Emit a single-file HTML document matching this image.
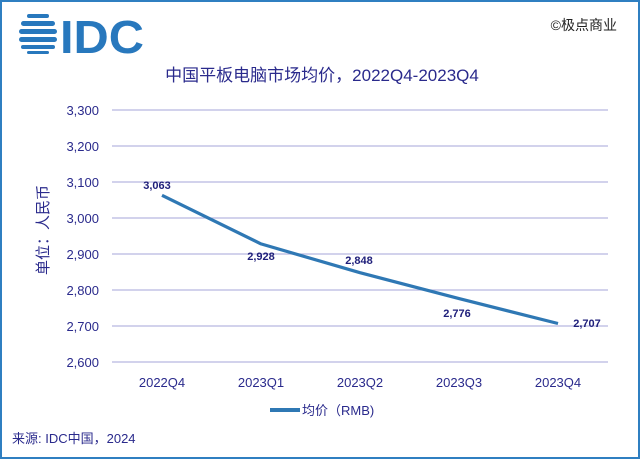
<!DOCTYPE html>
<html><head><meta charset="utf-8"><style>
body{margin:0;background:#fff}
svg{display:block}
text{font-family:"Liberation Sans","Noto Sans CJK SC",sans-serif}
</style></head><body>
<svg width="640" height="459" viewBox="0 0 640 459">
<rect x="1" y="1" width="638" height="457" fill="#fff" stroke="#2f7fc1" stroke-width="2"/>
<!-- logo globe -->
<g fill="#2878bd">
<rect x="27" y="14" width="22" height="4" rx="2"/>
<rect x="21" y="21" width="34" height="5" rx="2.5"/>
<rect x="19" y="29" width="38" height="5" rx="2.5"/>
<rect x="19" y="37" width="38" height="5" rx="2.5"/>
<rect x="21" y="45" width="34" height="4" rx="2"/>
<rect x="27" y="51" width="22" height="3" rx="1.5"/>
</g>
<text x="60" y="53" font-size="46" font-weight="bold" fill="#2878bd" textLength="84" lengthAdjust="spacingAndGlyphs">IDC</text>
<text x="617" y="30" font-size="14" fill="#222" text-anchor="end">©极点商业</text>
<text x="322" y="81" font-size="17" fill="#2a2a8c" text-anchor="middle">中国平板电脑市场均价，2022Q4-2023Q4</text>
<g stroke="#b8b8e0" stroke-width="1.3">
<line x1="112" y1="110" x2="608" y2="110"/><line x1="112" y1="146" x2="608" y2="146"/>
<line x1="112" y1="182" x2="608" y2="182"/><line x1="112" y1="218" x2="608" y2="218"/>
<line x1="112" y1="254" x2="608" y2="254"/><line x1="112" y1="290" x2="608" y2="290"/>
<line x1="112" y1="326" x2="608" y2="326"/><line x1="112" y1="362" x2="608" y2="362"/>
</g>
<g font-size="13" fill="#2a2a8c" text-anchor="end">
<text x="99" y="115">3,300</text><text x="99" y="151">3,200</text><text x="99" y="187">3,100</text>
<text x="99" y="223">3,000</text><text x="99" y="259">2,900</text><text x="99" y="295">2,800</text>
<text x="99" y="331">2,700</text><text x="99" y="367">2,600</text>
</g>
<text transform="translate(48,230) rotate(-90)" font-size="15" fill="#2a2a8c" text-anchor="middle">单位：人民币</text>
<g font-size="13" fill="#2a2a8c" text-anchor="middle">
<text x="162" y="387">2022Q4</text><text x="261" y="387">2023Q1</text><text x="360" y="387">2023Q2</text>
<text x="459" y="387">2023Q3</text><text x="558" y="387">2023Q4</text>
</g>
<polyline points="162,195.3 261,243.9 360,272.7 459,298.6 558,323.5" fill="none" stroke="#2f78b4" stroke-width="3.2" stroke-linejoin="round"/>
<g font-size="11" font-weight="bold" fill="#1e1e7a" text-anchor="middle">
<text x="157" y="189">3,063</text><text x="261" y="260">2,928</text><text x="359" y="264">2,848</text>
<text x="457" y="317">2,776</text><text x="587" y="327">2,707</text>
</g>
<line x1="270" y1="410" x2="300" y2="410" stroke="#2f78b4" stroke-width="4"/>
<text x="302" y="415" font-size="13" fill="#2a2a8c">均价（RMB)</text>
<text x="12" y="443" font-size="13" fill="#2a2a8c">来源: IDC中国，2024</text>
</svg>
</body></html>
